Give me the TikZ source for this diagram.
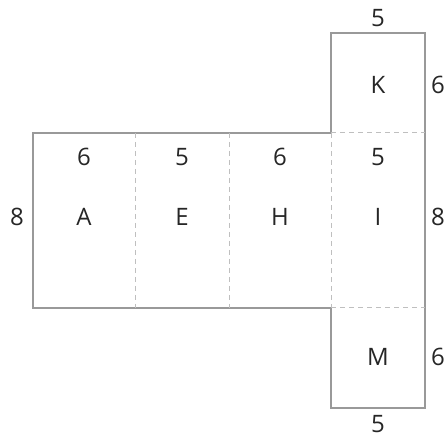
\documentclass[tikz,border=0pt]{standalone}
\usepackage{fontspec}
\setmainfont{Open Sans}
\usepackage{tikz}
\usetikzlibrary{positioning,calc}

\begin{document}
\begin{tikzpicture}[x=1pt,y=1pt,
  edge/.style={draw=black!40,line width=1.1pt},
  fold/.style={draw=black!25,line width=1pt,dash pattern=on 5pt off 4pt},
  lbl/.style={font=\fontsize{24}{24}\selectfont,text=black!85,inner sep=0pt}]
\useasboundingbox (0,0) rectangle (447,438);
% corners of the net
\coordinate (tl) at (33,305);
\coordinate (bl) at (33,130);
\coordinate (ktl) at (331,405);
\coordinate (ktr) at (425,405);
\coordinate (mbl) at (331,30);
\coordinate (mbr) at (425,30);
\coordinate (it) at (331,305);
\coordinate (ib) at (331,130);
\coordinate (itr) at (425,305);
\coordinate (ibr) at (425,130);
\coordinate (ae) at (135,305);
\coordinate (eh) at (229,305);

\draw[edge] (tl) -- (it) -- (ktl) -- (ktr) -- (mbr) -- (mbl) -- (ib) -- (bl) -- cycle;
\draw[fold] (ae) -- (ae |- bl);
\draw[fold] (eh) -- (eh |- bl);
\draw[fold] (it) -- (ib);
\draw[fold] (it) -- (itr);
\draw[fold] (ib) -- (ibr);

% faces
\node[lbl] (A) at (84,221) {A};
\node[lbl] (E) at (182,221) {E};
\node[lbl] (H) at (280,221) {H};
\node[lbl] (I) at (378,221) {I};
\node[lbl] (K) at (378,353) {K};
\node[lbl] (M) at (378,81) {M};

% lengths
\node[lbl] (wa) at (84,281) {6};
\node[lbl] (we) at (182,281) {5};
\node[lbl] (wh) at (280,281) {6};
\node[lbl] (wi) at (378,281) {5};
\node[lbl] (wk) at (378,420) {5};
\node[lbl] (wm) at (378,14) {5};
\node[lbl] (hl) at (17,221) {8};
\node[lbl] (hr) at (438,221) {8};
\node[lbl] (hk) at (438,353) {6};
\node[lbl] (hm) at (438,81) {6};
\end{tikzpicture}
\end{document}
